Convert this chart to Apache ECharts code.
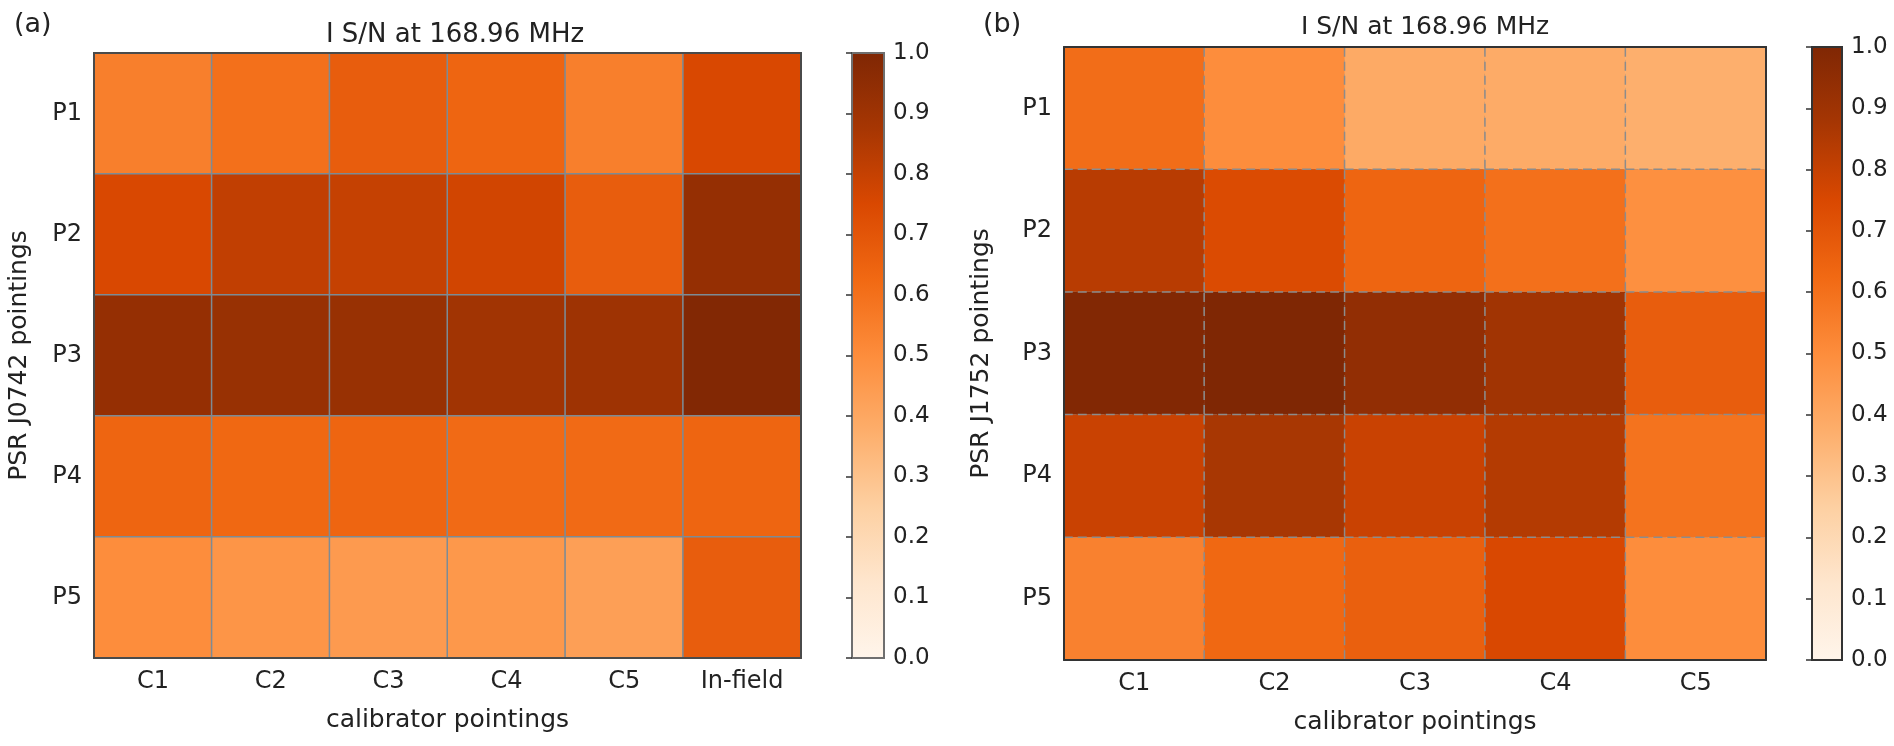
<!DOCTYPE html>
<html><head><meta charset="utf-8">
<script src="https://cdn.jsdelivr.net/npm/echarts/dist/echarts.min.js"></script>
<style>html,body{margin:0;padding:0;background:#fff}#c{width:1894px;height:746px}</style>
</head><body><div id="c"></div>
<script>
// ---- data ----
const calibratorsA = ['C1', 'C2', 'C3', 'C4', 'C5', 'In-field'];
const calibratorsB = ['C1', 'C2', 'C3', 'C4', 'C5'];
const pointings = ['P1', 'P2', 'P3', 'P4', 'P5'];
// normalised I S/N, rows P1..P5, columns as calibrators
const snrJ0742 = [
  [0.55, 0.60, 0.67, 0.64, 0.55, 0.75],
  [0.75, 0.81, 0.80, 0.77, 0.67, 0.93],
  [0.93, 0.92, 0.92, 0.89, 0.90, 0.99],
  [0.64, 0.63, 0.64, 0.62, 0.62, 0.64],
  [0.50, 0.47, 0.45, 0.46, 0.43, 0.67]
];
const snrJ1752 = [
  [0.61, 0.50, 0.39, 0.385, 0.37],
  [0.83, 0.74, 0.64, 0.60, 0.49],
  [0.99, 1.00, 0.94, 0.89, 0.67],
  [0.79, 0.87, 0.79, 0.84, 0.59],
  [0.54, 0.63, 0.66, 0.75, 0.50]
];
const colorbarMin = 0, colorbarMax = 1, colorbarStep = 0.1;
const orangesStops = ['#fff5eb', '#fee6ce', '#fdd0a2', '#fdae6b', '#fd8d3c', '#f16913', '#d94801', '#a63603', '#7f2704'];
const titleText = 'I S/N at 168.96 MHz';

// ---- build ----
function toCells(mat) {
  const out = [];
  mat.forEach((row, i) => row.forEach((v, j) => out.push([j, i, v])));
  return out;
}
const FONT = 'DejaVu Sans';
const tickTxt = { fontFamily: FONT, fontSize: 24, color: '#222' };
const nameTxt = { fontFamily: FONT, fontSize: 25, color: '#222' };
const cbTxt = { fontFamily: FONT, fontSize: 23, color: '#222' };

const gradient = new echarts.graphic.LinearGradient(0, 1, 0, 0,
  orangesStops.map((c, i) => ({ offset: i / (orangesStops.length - 1), color: c })));

const gridsDef = [
  { left: 94, top: 53, width: 707, height: 605 },   // heatmap a
  { left: 852, top: 53, width: 32, height: 605 },   // colorbar a
  { left: 1064, top: 47, width: 702, height: 613 }, // heatmap b
  { left: 1812, top: 47, width: 30, height: 613 }   // colorbar b
];

const frameA = { show: true, lineStyle: { color: '#4a4a4a', width: 2 } };
const frameB = { show: true, lineStyle: { color: '#333', width: 2 } };

function catX(grid, cats, frame, pos, showLabels) {
  return {
    type: 'category', gridIndex: grid, data: cats, position: pos, z: 10,
    axisLine: frame, axisTick: { show: false }, splitLine: { show: false },
    axisLabel: { show: showLabels, margin: 12, ...tickTxt },
    name: showLabels ? 'calibrator pointings' : '', nameLocation: 'middle', nameGap: 50,
    nameTextStyle: { ...nameTxt }
  };
}
function catY(grid, frame, pos, showLabels, name, gap) {
  return {
    type: 'category', gridIndex: grid, data: pointings, inverse: true, position: pos, z: 10,
    axisLine: frame, axisTick: { show: false }, splitLine: { show: false },
    axisLabel: { show: showLabels, margin: 12, ...tickTxt },
    name: showLabels ? name : '', nameLocation: 'middle', nameGap: gap, nameRotate: 90,
    nameTextStyle: { ...nameTxt }
  };
}
function cbX(grid) { return { type: 'value', gridIndex: grid, show: false, min: 0, max: 1 }; }
function cbY(grid) {
  return {
    type: 'value', gridIndex: grid, position: 'right', min: colorbarMin, max: colorbarMax, interval: colorbarStep,
    axisLine: { show: false }, splitLine: { show: false },
    axisTick: { show: true, inside: true, length: 6, lineStyle: { color: '#333', width: 1.5 } },
    axisLabel: { margin: 9, ...cbTxt, formatter: v => v.toFixed(1) }
  };
}

const option = {
  backgroundColor: '#fff',
  animation: false,
  title: [
    { text: '(a)', left: 9, top: 6, textStyle: { fontFamily: FONT, fontSize: 27, fontWeight: 'normal', color: '#222' } },
    { text: '(b)', left: 978, top: 6, textStyle: { fontFamily: FONT, fontSize: 27, fontWeight: 'normal', color: '#222' } },
    { text: titleText, left: 450, top: 17, textAlign: 'center', textStyle: { fontFamily: FONT, fontSize: 26, fontWeight: 'normal', color: '#222' } },
    { text: titleText, left: 1420, top: 10, textAlign: 'center', textStyle: { fontFamily: FONT, fontSize: 25, fontWeight: 'normal', color: '#222' } }
  ],
  grid: gridsDef.map((g, i) => (i === 1 || i === 3)
    ? { ...g, show: true, backgroundColor: gradient, borderColor: i === 1 ? '#6f6f6f' : '#333', borderWidth: 2 }
    : { ...g }),
  visualMap: {
    show: false, type: 'continuous', min: colorbarMin, max: colorbarMax, seriesIndex: [0, 1],
    inRange: { color: orangesStops }
  },
  xAxis: [
    catX(0, calibratorsA, frameA, 'bottom', true),
    catX(0, calibratorsA, frameA, 'top', false),
    cbX(1),
    catX(2, calibratorsB, frameB, 'bottom', true),
    catX(2, calibratorsB, frameB, 'top', false),
    cbX(3)
  ],
  yAxis: [
    catY(0, frameA, 'left', true, 'PSR J0742 pointings', 62),
    catY(0, frameA, 'right', false, '', 0),
    cbY(1),
    catY(2, frameB, 'left', true, 'PSR J1752 pointings', 70),
    catY(2, frameB, 'right', false, '', 0),
    cbY(3)
  ],
  series: [
    {
      type: 'heatmap', xAxisIndex: 0, yAxisIndex: 0, data: toCells(snrJ0742),
      itemStyle: { borderColor: '#7d8b95', borderWidth: 1.5 },
      emphasis: { disabled: true }
    },
    {
      type: 'heatmap', xAxisIndex: 3, yAxisIndex: 3, data: toCells(snrJ1752),
      itemStyle: { borderColor: '#8c8c8c', borderWidth: 1.5, borderType: [9, 5] },
      emphasis: { disabled: true }
    }
  ]
};
const chart = echarts.init(document.getElementById('c'), null, { renderer: 'canvas' });
chart.setOption(option);
</script></body></html>
